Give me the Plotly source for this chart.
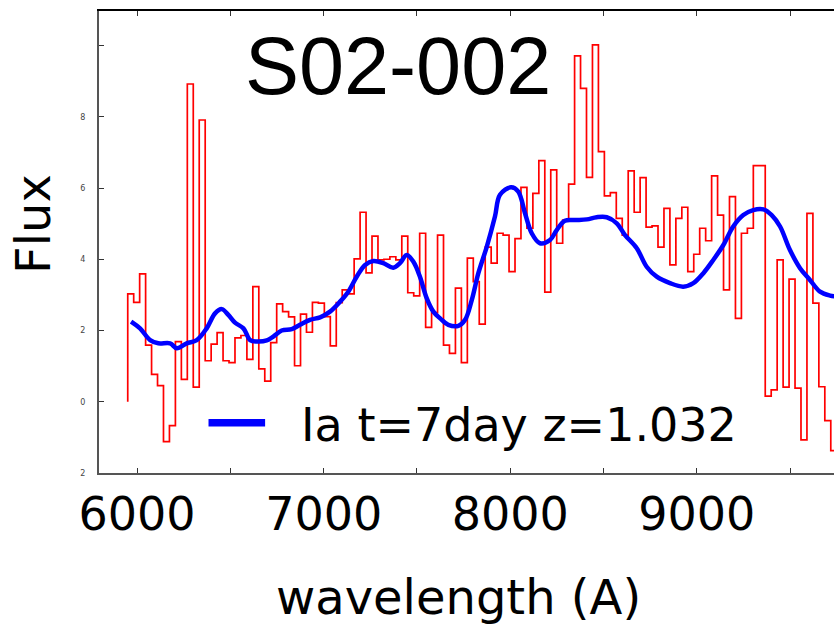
import plotly.graph_objects as go

# Observed spectrum, binned (flux per bin, bins of equal width in Angstrom)
BIN_START = 5950.0
BIN_WIDTH = 31.93
flux_obs = [
    0.303, 0.279, 0.359, 0.159, 0.077, 0.045, -0.112, -0.067, 0.169, 0.063,
    0.892, 0.041, 0.791, 0.115, 0.162, 0.194, 0.115, 0.110, 0.179, 0.186,
    0.119, 0.323, 0.092, 0.058, 0.166, 0.275, 0.253, 0.238, 0.101, 0.246,
    0.195, 0.279, 0.277, 0.239, 0.157, 0.278, 0.314, 0.303, 0.401, 0.532,
    0.362, 0.465, 0.398, 0.400, 0.407, 0.398, 0.465, 0.306, 0.297, 0.473,
    0.209, 0.250, 0.468, 0.159, 0.136, 0.319, 0.110, 0.403, 0.337, 0.218,
    0.434, 0.389, 0.473, 0.468, 0.365, 0.458, 0.602, 0.487, 0.585, 0.677,
    0.308, 0.651, 0.445, 0.510, 0.611, 0.971, 0.880, 0.630, 1.002, 0.702,
    0.578, 0.587, 0.515, 0.468, 0.648, 0.532, 0.629, 0.490, 0.494, 0.434,
    0.543, 0.384, 0.515, 0.546, 0.365, 0.414, 0.487, 0.452, 0.634, 0.524,
    0.314, 0.576, 0.234, 0.473, 0.487, 0.663, 0.663, 0.016, 0.033, 0.398,
    0.041, 0.344, 0.038, -0.107, 0.529, 0.277, 0.042, -0.053, -0.137,
]

# Type Ia template, t = 7 day, redshifted to z = 1.032
wave_tmpl = [
    5968, 6016, 6070, 6114, 6177, 6213, 6266, 6320, 6373, 6418,
    6454, 6489, 6525, 6570, 6606, 6641, 6695, 6730, 6775, 6829,
    6873, 6927, 6981, 7034, 7088, 7132, 7177, 7222, 7266, 7320,
    7373, 7409, 7445, 7481, 7516, 7552, 7588, 7624, 7668, 7722,
    7758, 7794, 7829, 7874, 7918, 7945, 8004, 8043, 8079, 8115,
    8159, 8213, 8249, 8293, 8347, 8410, 8463, 8517, 8571, 8615,
    8678, 8731, 8785, 8856, 8927, 8981, 9035, 9088, 9142, 9195,
    9249, 9302, 9356, 9401, 9446, 9499, 9553, 9606, 9660, 9714,
    9767,
]
flux_tmpl = [
    0.225, 0.206, 0.173, 0.164, 0.164, 0.150, 0.164, 0.173, 0.206, 0.248,
    0.260, 0.244, 0.222, 0.206, 0.173, 0.169, 0.172, 0.183, 0.200, 0.204,
    0.216, 0.230, 0.237, 0.253, 0.281, 0.309, 0.351, 0.384, 0.395, 0.389,
    0.376, 0.389, 0.412, 0.393, 0.351, 0.291, 0.253, 0.234, 0.216, 0.213,
    0.230, 0.286, 0.361, 0.435, 0.520, 0.581, 0.602, 0.590, 0.529, 0.473,
    0.445, 0.454, 0.482, 0.508, 0.510, 0.512, 0.518, 0.518, 0.501, 0.468,
    0.431, 0.379, 0.351, 0.333, 0.323, 0.333, 0.361, 0.398, 0.440, 0.492,
    0.524, 0.538, 0.540, 0.524, 0.492, 0.426, 0.375, 0.342, 0.309, 0.298,
    0.294,
]

x_ticks = [6000, 6500, 7000, 7500, 8000, 8500, 9000, 9500]
x_ticktext = ["6000", "", "7000", "", "8000", "", "9000", ""]
y_ticks = [-0.2, 0.0, 0.2, 0.4, 0.6, 0.8, 1.0]
y_ticktext = ["2", "0", "2", "4", "6", "8", ""]

# histogram-style outline: start from the zero level at the first bin edge
edges = [BIN_START + i * BIN_WIDTH for i in range(len(flux_obs) + 1)]
step_x = [edges[0]] + edges
step_y = [0.0] + flux_obs + [flux_obs[-1]]

fig = go.Figure()
fig.add_trace(go.Scatter(
    x=step_x, y=step_y, mode="lines", line_shape="hv",
    line=dict(color="#ff0000", width=1.7), showlegend=False,
))
fig.add_trace(go.Scatter(
    x=wave_tmpl, y=flux_tmpl, mode="lines", line_shape="spline",
    line=dict(color="#0000ff", width=4.5), showlegend=False,
))
# carrier for the top frame axis
fig.add_trace(go.Scatter(x=[], y=[], xaxis="x2", showlegend=False))

XR = [5796, 9735]
YR = [-0.2001, 1.097]

fig.update_layout(
    width=834, height=625,
    margin=dict(l=99, r=0, t=11, b=152),
    paper_bgcolor="white", plot_bgcolor="white",
    font=dict(family="DejaVu Sans", color="black"),
    xaxis=dict(
        range=XR, showgrid=False, zeroline=False,
        showline=True, linecolor="#555555", linewidth=2,
        ticks="inside", ticklen=5, tickwidth=1.2, tickcolor="#333333",
        tickvals=x_ticks, ticktext=x_ticktext,
        tickfont=dict(family="DejaVu Sans", size=46, color="black"),
        ticklabelstandoff=0,
    ),
    xaxis2=dict(
        range=XR, overlaying="x", side="top", anchor="y",
        showgrid=False, zeroline=False,
        showline=True, linecolor="black", linewidth=1.5,
        ticks="inside", ticklen=5, tickwidth=1.2, tickcolor="#333333",
        tickvals=x_ticks, showticklabels=False,
    ),
    yaxis=dict(
        range=YR, showgrid=False, zeroline=False,
        showline=True, linecolor="#555555", linewidth=2,
        ticks="inside", ticklen=5, tickwidth=1.2, tickcolor="#333333",
        tickvals=y_ticks, ticktext=y_ticktext,
        tickfont=dict(family="DejaVu Sans", size=8, color="#444444"),
        ticklabelstandoff=10,
    ),
)

# legend sample and label
fig.add_shape(type="line", xref="paper", yref="paper",
              x0=0.149, x1=0.226, y0=0.109, y1=0.109,
              line=dict(color="#0000ff", width=7.5))
fig.add_annotation(text="Ia t=7day z=1.032", xref="paper", yref="paper",
                   x=0.2715, y=0.104, xanchor="left", yanchor="middle",
                   showarrow=False,
                   font=dict(family="DejaVu Sans", size=46, color="black"))

# object name
fig.add_annotation(text="S02-002", xref="paper", yref="paper",
                   x=0.407, y=0.882, xanchor="center", yanchor="middle",
                   showarrow=False,
                   font=dict(family="Liberation Sans", size=81, color="black"))

# axis titles
fig.add_annotation(text="Flux", xref="paper", yref="paper",
                   x=-0.0898, y=0.539, xanchor="center", yanchor="middle",
                   textangle=-90, showarrow=False,
                   font=dict(family="DejaVu Sans", size=48, color="black"))
fig.add_annotation(text="wavelength (A)", xref="paper", yref="paper",
                   x=0.489, y=-0.268, xanchor="center", yanchor="middle",
                   showarrow=False,
                   font=dict(family="DejaVu Sans", size=48, color="black"))

fig.write_html("out.html")
